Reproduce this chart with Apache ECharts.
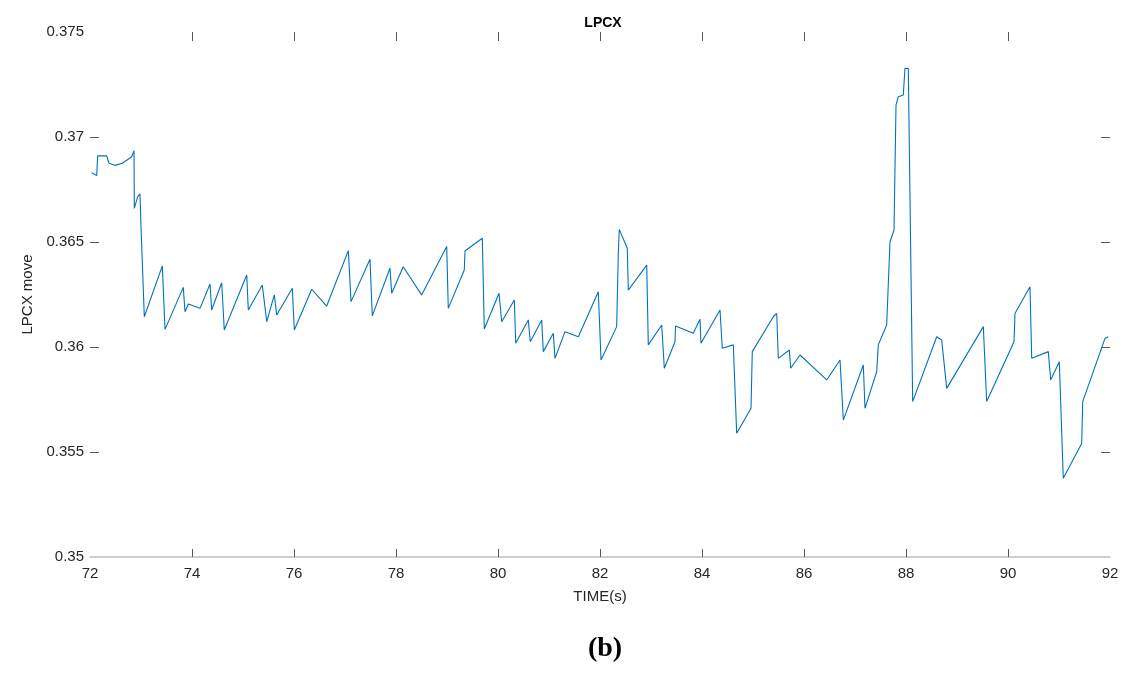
<!DOCTYPE html>
<html>
<head>
<meta charset="utf-8">
<title>LPCX</title>
<script src="https://cdn.jsdelivr.net/npm/echarts@6/dist/echarts.min.js"></script>
<style>
  html, body { margin: 0; padding: 0; background: #fff; }
  #main { width: 1126px; height: 690px; }
</style>
</head>
<body>
<div id="main"></div>
<script>
// time (s) and LPCX move
var timeS = [
  72.033, 72.131, 72.151, 72.327, 72.373, 72.490, 72.633, 72.818, 72.863, 72.869,
  72.935, 72.980, 73.000, 73.065, 73.418, 73.471, 73.829, 73.863, 73.927, 74.157,
  74.353, 74.386, 74.582, 74.633, 75.073, 75.104, 75.378, 75.418, 75.465, 75.614,
  75.661, 75.967, 76.006, 76.347, 76.641, 77.065, 77.118, 77.490, 77.535, 77.882,
  77.916, 78.141, 78.502, 78.994, 79.025, 79.339, 79.353, 79.692, 79.731, 80.020,
  80.073, 80.320, 80.347, 80.594, 80.633, 80.857, 80.888, 81.084, 81.118, 81.314,
  81.575, 81.967, 82.020, 82.327, 82.359, 82.378, 82.535, 82.555, 82.916, 82.947,
  83.210, 83.261, 83.471, 83.480, 83.829, 83.961, 83.980, 84.353, 84.398, 84.614,
  84.680, 84.961, 84.986, 85.398, 85.465, 85.496, 85.712, 85.739, 85.922, 86.445,
  86.706, 86.771, 87.163, 87.196, 87.425, 87.457, 87.621, 87.686, 87.765, 87.804,
  87.849, 87.947, 87.980, 88.045, 88.131, 88.602, 88.700, 88.798, 89.516, 89.582,
  90.118, 90.137, 90.431, 90.465, 90.790, 90.837, 91.006, 91.084, 91.445, 91.465,
  91.902, 91.967
];
var lpcxMove = [
  0.36830, 0.36816, 0.36910, 0.36910, 0.36875, 0.36865, 0.36875, 0.36906, 0.36935, 0.36660,
  0.36716, 0.36729, 0.36573, 0.36144, 0.36386, 0.36084, 0.36284, 0.36168, 0.36205, 0.36184,
  0.36300, 0.36176, 0.36306, 0.36081, 0.36343, 0.36176, 0.36295, 0.36216, 0.36120, 0.36248,
  0.36152, 0.36280, 0.36081, 0.36275, 0.36195, 0.36459, 0.36216, 0.36418, 0.36148, 0.36375,
  0.36256, 0.36382, 0.36248, 0.36478, 0.36184, 0.36367, 0.36457, 0.36518, 0.36086, 0.36256,
  0.36120, 0.36224, 0.36018, 0.36129, 0.36025, 0.36129, 0.35978, 0.36065, 0.35946, 0.36073,
  0.36049, 0.36263, 0.35938, 0.36097, 0.36446, 0.36560, 0.36470, 0.36271, 0.36390, 0.36010,
  0.36105, 0.35899, 0.36025, 0.36100, 0.36065, 0.36132, 0.36018, 0.36176, 0.35994, 0.36010,
  0.35589, 0.35708, 0.35978, 0.36144, 0.36160, 0.35946, 0.35986, 0.35899, 0.35962, 0.35843,
  0.35938, 0.35652, 0.35914, 0.35708, 0.35882, 0.36010, 0.36105, 0.36501, 0.36557, 0.37152,
  0.37192, 0.37200, 0.37327, 0.37327, 0.35740, 0.36049, 0.36033, 0.35803, 0.36097, 0.35740,
  0.36025, 0.36160, 0.36287, 0.35946, 0.35978, 0.35843, 0.35930, 0.35375, 0.35541, 0.35740,
  0.36041, 0.36049
];
// inner tick positions (the box corners have none)
var xInnerTicks = [74, 76, 78, 80, 82, 84, 86, 88, 90];
var yInnerTicks = [0.355, 0.36, 0.365, 0.37];

var chart = echarts.init(document.getElementById('main'));

var lineData = [];
for (var i = 0; i < timeS.length; i++) {
  lineData.push([timeS[i], lpcxMove[i]]);
}

var labelFont = { color: '#262626', fontSize: 15, fontFamily: 'Liberation Sans, Arial, sans-serif' };
var tickStyle = { color: '#595959', width: 1 };

chart.setOption({
  animation: false,
  title: [
    {
      text: 'LPCX',
      left: 598,
      top: 11,
      textAlign: 'center',
      textStyle: { fontSize: 14, fontWeight: 'bold', color: '#000', fontFamily: 'Liberation Sans, Arial, sans-serif' }
    },
    {
      text: '(b)',
      left: 600,
      top: 630,
      textAlign: 'center',
      textStyle: { fontSize: 28, fontWeight: 'bold', color: '#000', fontFamily: 'Liberation Serif, Times New Roman, serif' }
    }
  ],
  grid: {
    left: 90,
    right: 16,
    top: 32,
    bottom: 133
  },
  xAxis: [
    {
      type: 'value',
      min: 72,
      max: 92,
      interval: 2,
      name: 'TIME(s)',
      nameLocation: 'middle',
      nameGap: 32,
      nameTextStyle: labelFont,
      axisLine: { show: true, lineStyle: { color: '#bfbfbf', width: 1.5 } },
      axisTick: { show: true, inside: true, length: 8, lineStyle: tickStyle, customValues: xInnerTicks },
      axisLabel: Object.assign({ margin: 9 }, labelFont),
      splitLine: { show: false }
    },
    {
      type: 'value',
      position: 'top',
      min: 72,
      max: 92,
      interval: 2,
      axisLine: { show: false },
      axisTick: { show: true, inside: true, length: 9, lineStyle: tickStyle, customValues: xInnerTicks },
      axisLabel: { show: false },
      splitLine: { show: false }
    }
  ],
  yAxis: [
    {
      type: 'value',
      min: 0.35,
      max: 0.375,
      interval: 0.005,
      name: 'LPCX move',
      nameLocation: 'middle',
      nameGap: 55,
      nameTextStyle: labelFont,
      axisLine: { show: false },
      axisTick: { show: true, inside: true, length: 9, lineStyle: tickStyle, customValues: yInnerTicks },
      axisLabel: Object.assign({
        margin: 6,
        formatter: function (v) { return String(parseFloat(v.toFixed(3))); }
      }, labelFont),
      splitLine: { show: false }
    },
    {
      type: 'value',
      position: 'right',
      min: 0.35,
      max: 0.375,
      interval: 0.005,
      axisLine: { show: false },
      axisTick: { show: true, inside: true, length: 9, lineStyle: tickStyle, customValues: yInnerTicks },
      axisLabel: { show: false },
      splitLine: { show: false }
    }
  ],
  series: [
    {
      name: 'LPCX',
      type: 'line',
      xAxisIndex: 0,
      yAxisIndex: 0,
      showSymbol: false,
      data: lineData,
      lineStyle: { color: '#0072BD', width: 1.1 },
      itemStyle: { color: '#0072BD' }
    }
  ]
});
</script>
</body>
</html>
